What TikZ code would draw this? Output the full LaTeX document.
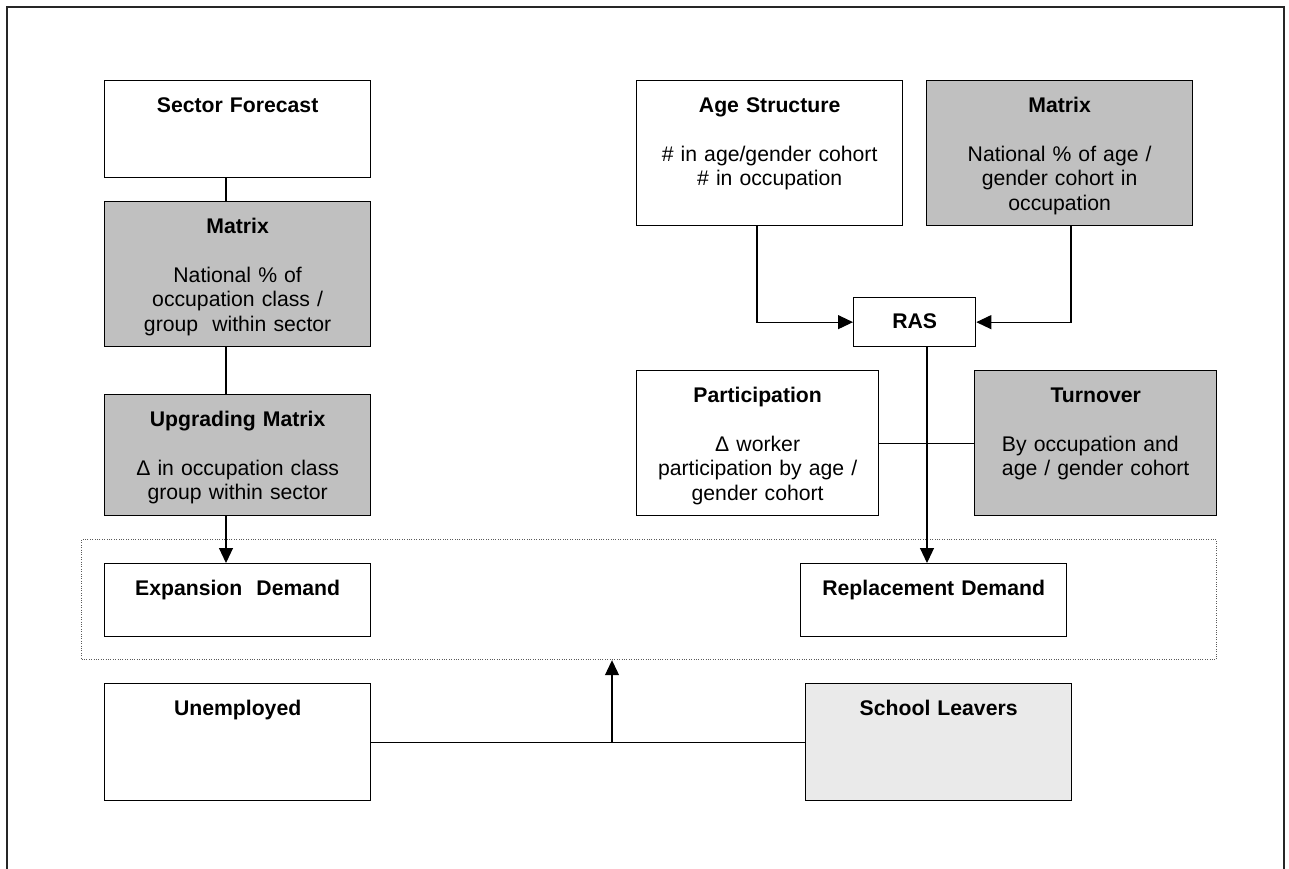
\documentclass[tikz,border=0pt]{standalone}
\usepackage{fontspec}
\setmainfont{Liberation Sans}
\usetikzlibrary{arrows.meta}
\definecolor{boxgray}{RGB}{192,192,192}
\definecolor{leavergray}{RGB}{234,234,234}
\definecolor{dotgray}{RGB}{90,90,90}

\begin{document}
\begin{tikzpicture}[
    x=0.5pt, y=-0.5pt,
    box/.style={draw, line width=0.65pt, anchor=north west, inner sep=0pt, align=center,
                text height=15.8pt, font=\fontsize{10.6}{12.25}\selectfont},
    wide/.style={text width=133pt},
    shaded/.style={box, fill=boxgray},
    link/.style={line width=0.55pt},
    arrow/.style={link, -{Triangle[width=7pt,length=7.5pt]}}
]
\useasboundingbox (0,0) rectangle (1289,868);

% ========== FRAME ==========
\draw[line width=1pt, black!85] (7,7) rectangle (1284,890);

% column guides for the connectors
\coordinate (lcol) at (226,0);
\coordinate (acol) at (757,0);
\coordinate (mcol) at (1071,0);
\coordinate (rcol) at (927,0);
\coordinate (ucol) at (612,0);

% ========== LEFT COLUMN ==========
\node[box, wide, text depth=32.7pt] (sf) at (104,80) {\textbf{Sector Forecast}};

\node[shaded, wide, text depth=56.7pt] (matl) at (104,201) {\textbf{Matrix}\\[12.25pt]
    National \% of\\occupation class /\\group\ \ within sector};

\node[shaded, wide, text depth=44.7pt] (upg) at (104,394) {\textbf{Upgrading Matrix}\\[12.25pt]
    Δ in occupation class\\group within sector};

\draw[link] (sf.south -| lcol) -- (matl.north -| lcol);
\draw[link] (matl.south -| lcol) -- (upg.north -| lcol);

% ========== RIGHT COLUMN ==========
\node[box, text width=133pt, text depth=56.7pt] (age) at (636,80) {\textbf{Age Structure}\\[12.25pt]
    \# in age/gender cohort\\\# in occupation};

\node[shaded, text width=133pt, text depth=56.7pt] (matr) at (926,80) {\textbf{Matrix}\\[12.25pt]
    National \% of age /\\gender cohort in\\occupation};

\node[box, text width=61pt, text height=15.3pt, text depth=9.2pt] (ras) at (853,297) {\textbf{RAS}};

\draw[arrow] (age.south -| acol) |- (ras.west);
\draw[arrow] (matr.south -| mcol) |- (ras.east);

\node[box, text width=121pt, text depth=56.7pt] (part) at (636,370) {\textbf{Participation}\\[12.25pt]
    Δ worker\\participation by age /\\gender cohort};

\node[shaded, text width=121pt, text depth=56.7pt] (turn) at (974,370) {\textbf{Turnover}\\[12.25pt]
    \begin{tabular}[t]{@{}l@{}}By occupation and\\age / gender cohort\end{tabular}\hspace*{15pt}};

\draw[link] (part.east) -- (turn.west);

% ========== DEMAND ==========
\node[draw, dotgray, line width=0.6pt, dash pattern=on 0.5pt off 0.7pt, anchor=north west,
      inner sep=0pt, minimum width=567.5pt, minimum height=60pt] (demand) at (81,539) {};

\node[box, wide, text depth=20.7pt] (exp) at (104,563) {\textbf{Expansion\ \ Demand}};
\node[box, wide, text depth=20.7pt] (rep) at (800,563) {\textbf{Replacement Demand}};

\draw[arrow] (upg.south -| lcol) -- (exp.north -| lcol);
\draw[arrow] (ras.south -| rcol) -- (rep.north -| rcol);

% ========== SUPPLY ==========
\node[box, wide, text depth=42.7pt] (unemp) at (104,683) {\textbf{Unemployed}};
\node[box, wide, fill=leavergray, text depth=42.7pt] (school) at (805,683) {\textbf{School Leavers}};

\draw[link] (unemp.east) -- (school.west);
\draw[arrow] (unemp.east -| ucol) -- (demand.south -| ucol);

\end{tikzpicture}
\end{document}
